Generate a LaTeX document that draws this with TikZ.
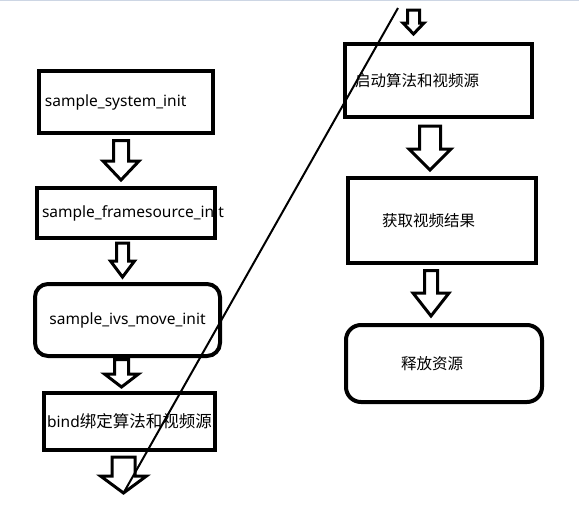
\documentclass[tikz,border=0pt]{standalone}
\usepackage{fontspec}
\setmainfont{Noto Sans}
\newfontfamily\cjk{Noto Sans CJK SC}
\usepackage{tikz}
\usetikzlibrary{calc}

\begin{document}
\begin{tikzpicture}[
  x=1pt, y=-1pt,
  stage/.style={rectangle, draw, line width=4pt, outer sep=0pt, inner ysep=0pt, align=left, font=\fontsize{15.5}{18}\selectfont},
  roundstage/.style={stage, rounded corners=#1, align=center},
  bigarrow/.style n args={3}{draw, line width=3pt, to path={let \p1=(\tikztostart), \p2=(\tikztotarget) in
    (\x1-#1,\y1) -- (\x1-#1,\y2+#3) -- (\x1-#2,\y2+#3) -- (\x1,\y2) -- (\x1+#2,\y2+#3) -- (\x1+#1,\y2+#3) -- (\x1+#1,\y1) -- cycle}}
]
\useasboundingbox (0,0) rectangle (579,504);
\draw[line width=1pt, color={rgb,255:red,205;green,214;blue,228}] (0,0.5) -- (579,0.5);

% left column
\node[stage, minimum width=174pt, minimum height=62pt, text width=162pt, inner xsep=6pt] (sysinit) at (126,102) {sample\_system\_init};
\node[stage, minimum width=178pt, minimum height=50pt, text width=168pt, inner xsep=5pt] (fsinit) at (126,213) {\mbox{sample\_framesource\_init}};
\node[roundstage=13pt, minimum width=185pt, minimum height=72pt] (ivsinit) at (127.5,320) {sample\_ivs\_move\_init};
\node[stage, align=center, minimum width=171pt, minimum height=57pt] (bind) at (129.5,421.5) {bind{\cjk\fontsize{16.5}{18}\selectfont 绑定算法和视频源}};
\coordinate (contlow) at (123.5,493);

% right column
\coordinate (conthigh) at (413.5,10);
\node[stage, minimum width=187pt, minimum height=73pt, text width=167pt, inner xsep=10pt] (start) at (438.5,80.5) {\cjk 启动算法和视频源};
\node[stage, minimum width=188pt, minimum height=85pt, text width=120pt, inner xsep=34pt] (result) at (442,220.5) {\cjk 获取视频结果};
\node[roundstage=15pt, align=left, minimum width=196pt, minimum height=77pt, text width=86pt, inner xsep=55pt] (release) at (444,363.5) {\cjk 释放资源};
\coordinate (linetop) at (398,8);

% arrows
\draw[bigarrow={7.5pt}{18pt}{19pt}] ([xshift=-5pt,yshift=-7.5pt]sysinit.south) to ([xshift=-5pt,yshift=8pt]fsinit.north);
\draw[bigarrow={6pt}{12pt}{16pt}] ([xshift=-3.5pt,yshift=-5pt]fsinit.south) to ([xshift=-5pt,yshift=7pt]ivsinit.north);
\draw[bigarrow={7pt}{17pt}{13pt}] ([xshift=-6pt,yshift=-3.5pt]ivsinit.south) to ([xshift=-8pt,yshift=6pt]bind.north);
\draw[bigarrow={11.5pt}{23pt}{17pt}] ([xshift=-6pt,yshift=-7pt]bind.south) to (contlow);
\draw[bigarrow={6pt}{10.5pt}{11pt}] (conthigh) to ([xshift=-25pt,yshift=10pt]start.north);
\draw[bigarrow={10.5pt}{21pt}{21pt}] ([xshift=-8.5pt,yshift=-9pt]start.south) to ([xshift=-12pt,yshift=8pt]result.north);
\draw[bigarrow={6.5pt}{18pt}{23pt}] ([xshift=-11pt,yshift=-7.5pt]result.south) to ([xshift=-13pt,yshift=9pt]release.north);

\draw[line width=2pt] (contlow) -- (linetop);
\end{tikzpicture}
\end{document}
